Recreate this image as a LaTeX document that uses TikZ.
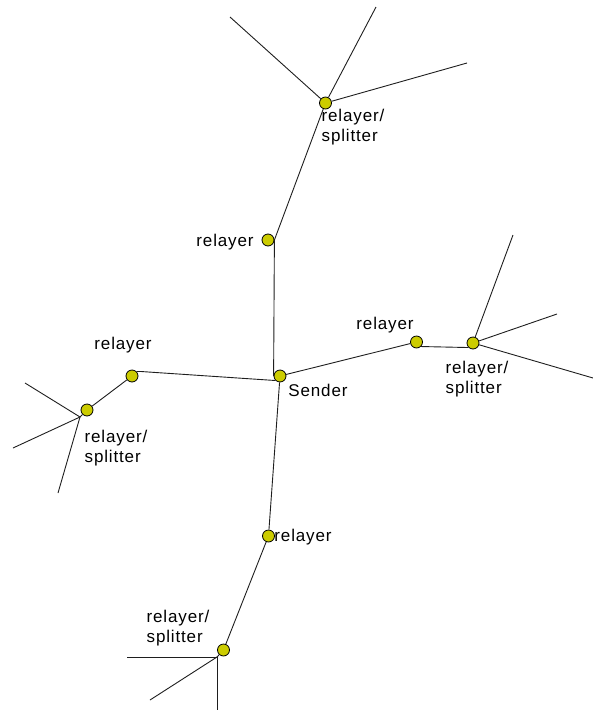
\documentclass[tikz,border=0pt]{standalone}
\usepackage{fontspec}
\newfontfamily\labfont[LetterSpace=5]{Liberation Sans}
\definecolor{dotfill}{RGB}{204,204,0}
\definecolor{linecol}{RGB}{30,30,30}
\tikzset{
  dot/.style={circle,draw=black,line width=0.8pt,fill=dotfill,minimum size=12pt,inner sep=0pt},
  conn/.style={draw=linecol,line width=0.9pt},
  lab/.style={font=\labfont\fontsize{17}{20}\selectfont,inner sep=0pt,align=left,text=black}
}
\begin{document}
\begin{tikzpicture}[x=1pt,y=-1pt]
\useasboundingbox (0,0) rectangle (593,710);
% connectors first (under the dots)
\coordinate (a1) at (230,17);
\coordinate (a2) at (376,7);
\coordinate (a3) at (467,63);
\coordinate (b1) at (513,235);
\coordinate (b2) at (557,314);
\coordinate (b3) at (593,378);
\coordinate (j3) at (80,417);
\coordinate (c1) at (25,383);
\coordinate (c2) at (13,448);
\coordinate (c3) at (58,493);
\coordinate (j4) at (217,657);
\coordinate (d1) at (127,657);
\coordinate (d2) at (150,700);
\coordinate (d3) at (217,710);
% nodes
\node[dot] (T1) at (325.5,103) {};
\node[dot] (R1) at (268,240) {};
\node[dot] (S)  at (280,376) {};
\node[dot] (R2) at (416.5,342) {};
\node[dot] (T2) at (473,343) {};
\node[dot] (R3) at (132,376) {};
\node[dot] (T3) at (87,410) {};
\node[dot] (R4) at (268.5,536) {};
\node[dot] (T4) at (223.5,650) {};
% connectors
\path[conn] (T1) -- (a1);
\path[conn] (T1) -- (a2);
\path[conn] (T1) -- (a3);
\path[conn] (T1) -- (R1.east) -- (S.west);
\path[conn] (S) -- (R2);
\path[conn] (R2.south east) -- (T2.south west);
\path[conn] (T2) -- (b1);
\path[conn] (T2) -- (b2);
\path[conn] (T2) -- (b3);
\path[conn] (R3.north east) -- ([xshift=4pt]R3.north east) -- (S.south west);
\path[conn] (R3) -- (T3);
\path[conn] (T3) -- (j3);
\path[conn] (j3) -- (c1);
\path[conn] (j3) -- (c2);
\path[conn] (j3) -- (c3);
\path[conn] (S) -- (R4);
\path[conn] (R4) -- (T4);
\path[conn] (T4) -- (j4);
\path[conn] (j4) -- (d1);
\path[conn] (j4) -- (d2);
\path[conn] (j4) -- (d3);
% labels
\node[lab] (LT1) at (353,127) {relayer/\\splitter};
\node[lab] (LR1) at (225,242) {relayer};
\node[lab] (LS)  at (318,390) {Sender};
\node[lab] (LR2) at (385,325) {relayer};
\node[lab] (LT2) at (477,379) {relayer/\\splitter};
\node[lab] (LR3) at (123,345) {relayer};
\node[lab] (LT3) at (116,448) {relayer/\\splitter};
\node[lab] (LR4) at (303,537) {relayer};
\node[lab] (LT4) at (178,628) {relayer/\\splitter};
\end{tikzpicture}
\end{document}
